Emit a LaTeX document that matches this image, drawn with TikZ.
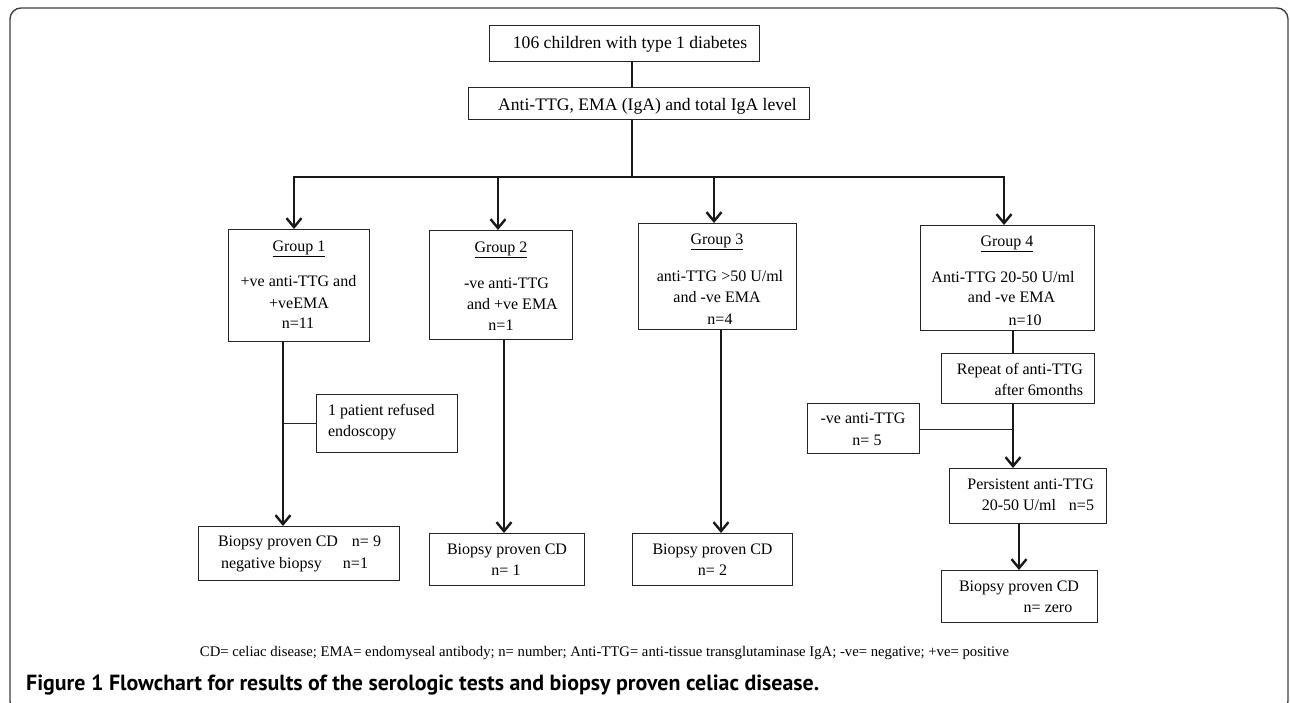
\documentclass[tikz,border=0pt]{standalone}
\usepackage{fontspec}
\setmainfont{Liberation Serif}
\newfontfamily\capfont{PT Sans}
\usepackage{graphicx}
\usetikzlibrary{arrows.meta}
\newcommand\boxfont{\fontsize{16}{19}\selectfont}
\newcommand\topfont{\fontsize{17.6}{21}\selectfont}
\newcommand\bx[5]{\node[box, minimum width={#4-#2}, minimum height={#5-#3}] (#1) at ({(#2+#4)/2},{(#3+#5)/2}) {};}
\begin{document}
\begin{tikzpicture}[x=1pt,y=-1pt,
  box/.style={draw=black!85, line width=1pt, inner sep=0pt, outer sep=0pt},
  txt/.style={inner sep=0pt, outer sep=0pt, font=\boxfont},
  big/.style={inner sep=0pt, outer sep=0pt, font=\topfont},
  thk/.style={line width=2.6pt, black!90},
  arr/.style={thk, -{Straight Barb[length=9pt,width=15pt,line width=2.4pt]}},
  thn/.style={line width=1pt, black!85}]
\useasboundingbox (0,0) rectangle (1290,702);
\begin{scope}
\clip (0,0) rectangle (1290,702);
\draw[line width=1.4pt, black!75, rounded corners=11pt] (10,8) rectangle (1288,712);
\end{scope}

% boxes
\bx{b1}{489}{25}{759}{61}
\bx{b2}{468}{87}{809}{119}
\bx{g1}{228.5}{229}{369.5}{341}
\bx{g2}{429}{230}{572}{339}
\bx{g3}{638}{223}{796}{329}
\bx{g4}{920}{225}{1094}{330}
\bx{ref}{316}{394}{457}{452}
\bx{rep}{941}{353}{1094}{403}
\bx{neg}{807}{403}{919}{453}
\bx{per}{949}{468}{1106}{523}
\bx{f1}{198}{526}{399}{580}
\bx{f2}{429}{533}{584}{585}
\bx{f3}{632}{533}{792}{585}
\bx{f4}{941}{570}{1097}{622}

% texts
\node[big, anchor=base] (tb1) at (630,48) {106 children with type 1 diabetes};
\node[big, anchor=base] (tb2) at (647.5,110) {Anti-TTG, EMA (IgA) and total IgA level};

\node[txt, anchor=base] (tg1a) at (299,251.5) {\underline{Group 1}};
\node[txt, anchor=base] (tg1b) at (298.5,286.5) {+ve anti-TTG and};
\node[txt, anchor=base] (tg1c) at (299,308.5) {+veEMA};
\node[txt, anchor=base] (tg1d) at (298,328.5) {n=11};

\node[txt, anchor=base] (tg2a) at (501,252.5) {\underline{Group 2}};
\node[txt, anchor=base west] (tg2b) at (464,288.5) {-ve anti-TTG};
\node[txt, anchor=base west] (tg2c) at (467,309.5) {and +ve EMA};
\node[txt, anchor=base] (tg2d) at (501,330.5) {n=1};

\node[txt, anchor=base] (tg3a) at (717,244.5) {\underline{Group 3}};
\node[txt, anchor=base] (tg3b) at (720,281.5) {anti-TTG >50 U/ml};
\node[txt, anchor=base] (tg3c) at (717,302.5) {and -ve EMA};
\node[txt, anchor=base] (tg3d) at (720,324.5) {n=4};

\node[txt, anchor=base] (tg4a) at (1007,246.5) {\underline{Group 4}};
\node[txt, anchor=base] (tg4b) at (1003,282.5) {Anti-TTG 20-50 U/ml};
\node[txt, anchor=base] (tg4c) at (1011.5,302.5) {and -ve EMA};
\node[txt, anchor=base] (tg4d) at (1025,325.5) {n=10};

\node[txt, anchor=base west] (tra) at (328,415.5) {1 patient refused};
\node[txt, anchor=base west] (trb) at (328,436.5) {endoscopy};

\node[txt, anchor=base east] (trpa) at (1083,374.5) {Repeat of anti-TTG};
\node[txt, anchor=base east] (trpb) at (1083,395.5) {after 6months};

\node[txt, anchor=base] (tna) at (863,423.5) {-ve anti-TTG};
\node[txt, anchor=base] (tnb) at (867,445.5) {n= 5};

\node[txt, anchor=base east] (tpa) at (1094,489.5) {Persistent anti-TTG};
\node[txt, anchor=base east] (tpb) at (1056,510.5) {20-50 U/ml};
\node[txt, anchor=base east] (tpc) at (1094,510.5) {n=5};

\node[txt, anchor=base west] (tf1a) at (218,546.5) {Biopsy proven CD};
\node[txt, anchor=base east] (tf1b) at (381,546.5) {n= 9};
\node[txt, anchor=base west] (tf1c) at (221,568.5) {negative biopsy};
\node[txt, anchor=base east] (tf1d) at (368,568.5) {n=1};

\node[txt, anchor=base] (tf2a) at (507,554.5) {Biopsy proven CD};
\node[txt, anchor=base] (tf2b) at (506,575.5) {n= 1};

\node[txt, anchor=base] (tf3a) at (712.5,554.5) {Biopsy proven CD};
\node[txt, anchor=base] (tf3b) at (712.5,575.5) {n= 2};

\node[txt, anchor=base] (tf4a) at (1019,591.5) {Biopsy proven CD};
\node[txt, anchor=base] (tf4b) at (1048,612.5) {n= zero};

\node[inner sep=0pt, anchor=base] (legend) at (604.5,656) {\resizebox{809pt}{!}{\fontsize{14.6}{17}\selectfont CD= celiac disease; EMA= endomyseal antibody; n= number; Anti-TTG= anti-tissue transglutaminase IgA; -ve= negative; +ve= positive}};

\node[inner sep=0pt, anchor=base west] (caption) at (26,690) {\resizebox{793pt}{!}{\capfont\bfseries\fontsize{21}{25}\selectfont Figure 1 Flowchart for results of the serologic tests and biopsy proven celiac disease.}};

% connector reference points
\coordinate (jc) at (632,177);
\coordinate (jl) at (294,177);
\coordinate (j2) at (498,177);
\coordinate (j3) at (714,177);
\coordinate (jr) at (1004,177);
\coordinate (v1) at ([xshift=-16pt]g1.south);
\coordinate (v2) at ([xshift=3.5pt]g2.south);
\coordinate (v3) at ([xshift=4pt]g3.south);
\coordinate (v4) at ([xshift=6pt]g4.south);
\coordinate (v5) at ([xshift=-4.5pt]rep.south);
\coordinate (v6) at ([xshift=-8.5pt]per.south);
\coordinate (nb) at ([yshift=-1pt]neg.east);

\draw[thk] (b1.south -| jc) -- (b2.north -| jc);
\draw[thk] (b2.south -| jc) -- (jc);
\draw[thk, {Straight Barb[length=9pt,width=15pt,line width=2.4pt]}-{Straight Barb[length=9pt,width=15pt,line width=2.4pt]}]
  (jl |- g1.north) -- (jl) -- (jr) -- (jr |- g4.north);
\draw[arr] (j2) -- (j2 |- g2.north);
\draw[arr] (j3) -- (j3 |- g3.north);

\draw[arr] (v1) -- (v1 |- f1.north);
\draw[thn] (ref.west) -- (ref.west -| v1);
\draw[arr] (v2) -- (v2 |- f2.north);
\draw[arr] (v3) -- (v3 |- f3.north);
\draw[thk] (v4) -- (v4 |- rep.north);
\draw[arr] (v5) -- (v5 |- per.north);
\draw[thn] (nb) -- (nb -| v5);
\draw[arr] (v6) -- (v6 |- f4.north);
\end{tikzpicture}
\end{document}
